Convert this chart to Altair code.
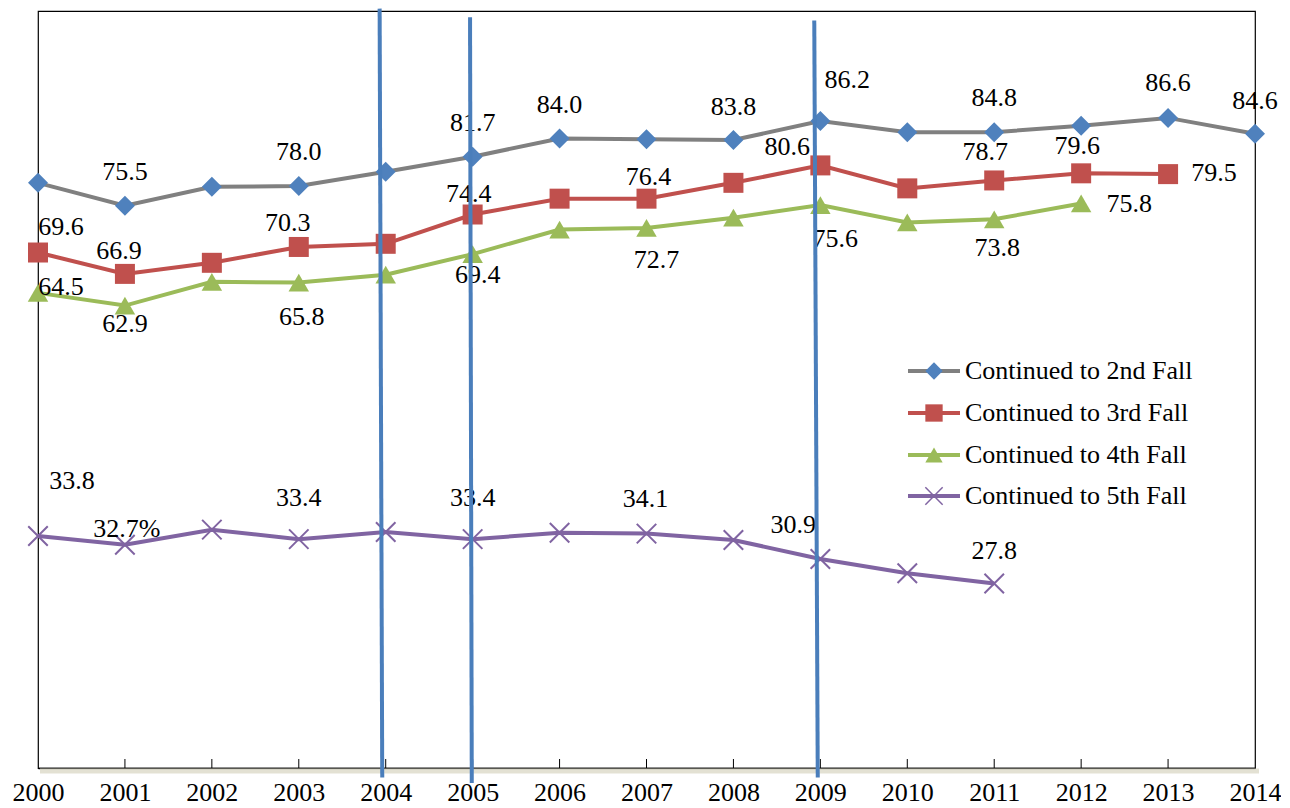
import altair as alt
import pandas as pd

YEARS = list(range(2000, 2015))
SERIES = ["Continued to 2nd Fall", "Continued to 3rd Fall",
          "Continued to 4th Fall", "Continued to 5th Fall"]
FALL2 = [78.4, 75.5, 77.9, 78.0, 79.8, 81.7, 84.0, 83.9, 83.8, 86.2, 84.8, 84.8, 85.6, 86.6, 84.6]
FALL3 = [69.6, 66.9, 68.3, 70.3, 70.7, 74.4, 76.4, 76.4, 78.4, 80.6, 77.7, 78.7, 79.6, 79.5, None]
FALL4 = [64.5, 62.9, 65.9, 65.8, 66.8, 69.4, 72.5, 72.7, 74.0, 75.6, 73.4, 73.8, 75.8, None, None]
FALL5 = [33.8, 32.7, 34.6, 33.4, 34.3, 33.4, 34.2, 34.1, 33.3, 30.9, 29.1, 27.8, None, None, None]
VALUES = [FALL2, FALL3, FALL4, FALL5]

LINE_COLORS = ["#808080", "#C0504D", "#9BBB59", "#8064A2"]
MARKER_COLORS = ["#4F81BD", "#C0504D", "#9BBB59", "#8064A2"]
X_PATH = "M-1,-1L1,1M-1,1L1,-1"
SHAPES = ["diamond", "square", "triangle-up", X_PATH]

# labelled points: (series index, year, text)
LABEL_SERIES = [0, 0, 0, 0, 0, 0, 0, 0, 0,
                1, 1, 1, 1, 1, 1, 1, 1, 1,
                2, 2, 2, 2, 2, 2, 2, 2,
                3, 3, 3, 3, 3, 3, 3]
LABEL_YEARS = [2001, 2003, 2005, 2006, 2008, 2009, 2011, 2013, 2014,
               2000, 2001, 2003, 2005, 2007, 2009, 2011, 2012, 2013,
               2000, 2001, 2003, 2005, 2007, 2009, 2011, 2012,
               2000, 2001, 2003, 2005, 2007, 2009, 2011]
LABEL_TEXTS = ["75.5", "78.0", "81.7", "84.0", "83.8", "86.2", "84.8", "86.6", "84.6",
               "69.6", "66.9", "70.3", "74.4", "76.4", "80.6", "78.7", "79.6", "79.5",
               "64.5", "62.9", "65.8", "69.4", "72.7", "75.6", "73.8", "75.8",
               "33.8", "32.7%", "33.4", "33.4", "34.1", "30.9", "27.8"]
# label placement offsets (pixels) relative to the point
LABEL_DX = [0, 0, 0, 0, 0, 27, 0, 0, 0,
            23, -6, -11, -4, 2, -33, -9, -4, 46,
            23, 0, 3, 5, 10, 15, 3, 48,
            34, 2, 0, 0, -1, -27, 0]
LABEL_DY = [-34, -34, -34, -33, -33, -41, -34, -35, -33,
            -26, -23, -24, -21, -22, -18, -28, -27, -1,
            -6, 18, 34, 21, 32, 34, 29, 1,
            -55, -16, -41, -41, -35, -34, -33]

# vertical annotation lines (slightly tilted, as drawn)
VLINE_X_TOP = [2003.93, 2004.97, 2008.93]
VLINE_X_BOT = [2003.96, 2004.99, 2008.97]
VLINE_Y_TOP = [100.4, 99.3, 98.9]
VLINE_Y_BOT = [3.3, 2.6, 3.3]

FONT = "'Liberation Serif', 'Times New Roman', 'DejaVu Serif', serif"
FS = 26
W, H = 1217, 757

rows = []
for s, vals in zip(SERIES, VALUES):
    for y, v in zip(YEARS, vals):
        if v is not None:
            rows.append({"series": s, "year": y, "value": v})
df = pd.DataFrame(rows)

xscale = alt.Scale(domain=[2000, 2014], nice=False, zero=False)
yscale = alt.Scale(domain=[4.5, 100.1], nice=False, zero=False)
xaxis = alt.Axis(values=YEARS, format="d", title=None, ticks=False, grid=False,
                 labelFont=FONT, labelFontSize=FS, labelColor="black",
                 labelPadding=11, labelFlush=False, labelOverlap=False,
                 domainColor="black", domainWidth=1.5)

def X(field="year"):
    return alt.X(f"{field}:Q", scale=xscale, axis=xaxis)

def Y(field="value"):
    return alt.Y(f"{field}:Q", scale=yscale, axis=None)

layers = []

# axis shadow
layers.append(alt.Chart(pd.DataFrame({"a": [0]})).mark_rule(
    color="#dcd9c8", strokeWidth=5, opacity=0.8).encode(
    x=alt.value(2), x2=alt.value(W + 4), y=alt.value(H + 3)))

# inside ticks
ticks_df = pd.DataFrame({"year": YEARS[1:-1]})
layers.append(alt.Chart(ticks_df).mark_rule(color="black", strokeWidth=1).encode(
    x=X(), y=alt.value(H), y2=alt.value(H - 9)))

# lines
layers.append(alt.Chart(df).mark_line(strokeWidth=4).encode(
    x=X(), y=Y(),
    color=alt.Color("series:N", scale=alt.Scale(domain=SERIES, range=LINE_COLORS), legend=None),
    detail="series:N"))

# markers
for i, s in enumerate(SERIES):
    sub = df[df.series == s]
    if i == 3:
        mk = alt.Chart(sub).mark_point(shape=SHAPES[i], size=380, filled=False,
                                       stroke=MARKER_COLORS[i], strokeWidth=2, opacity=1)
    else:
        size = 420 if i == 2 else 400
        mk = alt.Chart(sub).mark_point(shape=SHAPES[i], size=size, filled=True,
                                       fill=MARKER_COLORS[i], opacity=1, strokeWidth=0)
    layers.append(mk.encode(x=X(), y=Y()))

# data labels
for si, yr, txt, dx, dy in zip(LABEL_SERIES, LABEL_YEARS, LABEL_TEXTS, LABEL_DX, LABEL_DY):
    v = VALUES[si][YEARS.index(yr)]
    ldf = pd.DataFrame({"year": [yr], "value": [v], "label": [txt]})
    layers.append(alt.Chart(ldf).mark_text(
        font=FONT, fontSize=FS, color="black", dx=dx, dy=dy,
        align="center", baseline="middle").encode(x=X(), y=Y(), text="label:N"))

# vertical blue lines
vdf = pd.DataFrame({"xt": VLINE_X_TOP, "xb": VLINE_X_BOT, "yt": VLINE_Y_TOP, "yb": VLINE_Y_BOT})
layers.append(alt.Chart(vdf).mark_rule(color="#4A7EBB", strokeWidth=4).encode(
    x=X("xt"), x2="xb", y=Y("yt"), y2="yb"))

# custom legend
one = pd.DataFrame({"a": [0]})
LEG_Y = [360, 402, 444, 485]
for i, s in enumerate(SERIES):
    ly = LEG_Y[i]
    layers.append(alt.Chart(one).mark_rule(color=LINE_COLORS[i], strokeWidth=4).encode(
        x=alt.value(870), x2=alt.value(922), y=alt.value(ly)))
    if i == 3:
        pm = alt.Chart(one).mark_point(shape=SHAPES[i], size=300, filled=False,
                                       stroke=MARKER_COLORS[i], strokeWidth=1.5, opacity=1)
    else:
        pm = alt.Chart(one).mark_point(shape=SHAPES[i], size=300, filled=True,
                                       fill=MARKER_COLORS[i], opacity=1, strokeWidth=0)
    layers.append(pm.encode(x=alt.value(896), y=alt.value(ly)))
    layers.append(alt.Chart(one).mark_text(
        font=FONT, fontSize=FS, color="black", align="left", baseline="middle").encode(
        x=alt.value(927), y=alt.value(ly), text=alt.value(s)))

chart = alt.layer(*layers).properties(
    width=W, height=H,
    autosize=alt.AutoSizeParams(type="none"),
    padding={"left": 30, "top": 3, "right": 26, "bottom": 40},
    background="white",
).configure_view(stroke="black", strokeWidth=1.2)

chart.save("out.html", embed_options={"renderer": "svg", "actions": False})
